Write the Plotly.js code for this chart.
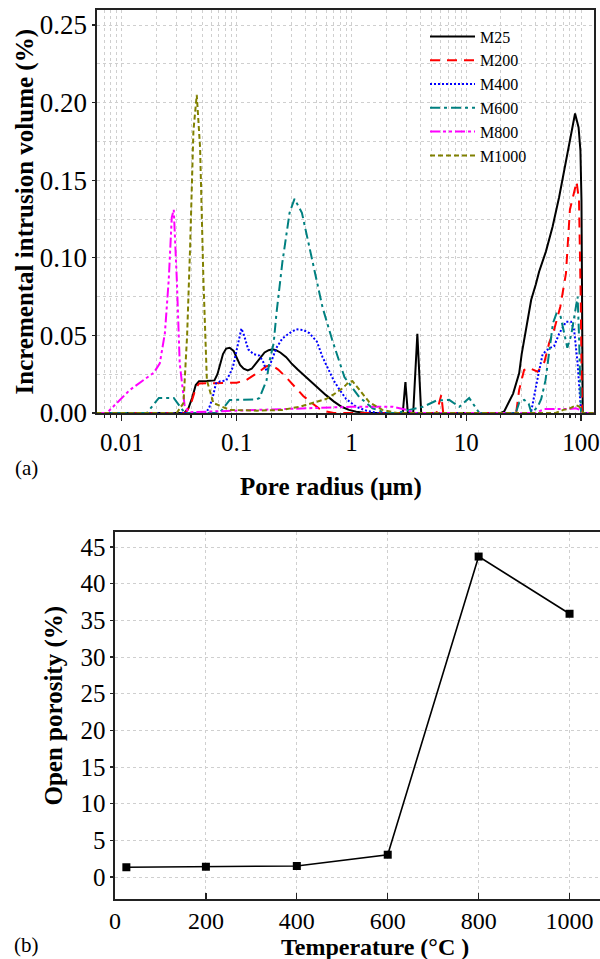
<!DOCTYPE html>
<html>
<head>
<meta charset="utf-8">
<script src="https://cdn.plot.ly/plotly-3.0.1.min.js"></script>
<style>
html,body{margin:0;padding:0;background:#fff}
#chart{width:600px;height:959px}
#chart svg text{font-family:"Liberation Serif","Times New Roman",serif !important;}
</style>
</head>
<body>
<div id="chart"></div>
<script>
// ---------- Panel (a): pore size distribution ----------
const seriesNames = ["M25", "M200", "M400", "M600", "M800", "M1000"];

const m25_x = [0.006, 0.035, 0.038, 0.041, 0.044, 0.047, 0.055, 0.064, 0.068, 0.072, 0.076, 0.081, 0.087, 0.094, 0.1, 0.107, 0.115, 0.125, 0.135, 0.147, 0.16, 0.175, 0.19, 0.205, 0.22, 0.24, 0.27, 0.3, 0.34, 0.39, 0.45, 0.52, 0.6, 0.7, 0.82, 0.95, 1.1, 1.3, 1.5, 2.8, 2.95, 3.1, 3.45, 3.75, 4.05, 20, 21.4, 25.6, 28.9, 30.4, 33.2, 35.3, 36.8, 40.4, 43.1, 49.4, 56.5, 64.4, 73.9, 84.8, 88.7, 95.2, 98.8, 100.9, 102.3, 103.5, 129];
const m25_y = [0, 0, 0.003, 0.01, 0.018, 0.0205, 0.0206, 0.021, 0.025, 0.032, 0.038, 0.0415, 0.042, 0.040, 0.036, 0.031, 0.0285, 0.0275, 0.0285, 0.032, 0.036, 0.039, 0.0405, 0.041, 0.0405, 0.039, 0.036, 0.032, 0.028, 0.024, 0.020, 0.0155, 0.0115, 0.0075, 0.004, 0.002, 0.0008, 0.0002, 0, 0, 0.020, 0, 0, 0.051, 0, 0, 0.001, 0.0125, 0.0256, 0.038, 0.055, 0.066, 0.073, 0.083, 0.091, 0.104, 0.120, 0.139, 0.163, 0.187, 0.193, 0.184, 0.169, 0.137, 0.073, 0, 0];

const m200_x = [0.006, 0.036, 0.04, 0.044, 0.047, 0.06, 0.08, 0.1, 0.12, 0.14, 0.16, 0.18, 0.2, 0.23, 0.27, 0.32, 0.38, 0.45, 0.52, 0.6, 0.7, 5.5, 6.06, 6.3, 27.2, 28.9, 31.9, 35.3, 41.9, 48, 52.7, 58.2, 66, 73.9, 80, 91.5, 96, 99.4, 102, 129];
const m200_y = [0, 0, 0.006, 0.016, 0.019, 0.0192, 0.0192, 0.0195, 0.021, 0.024, 0.027, 0.030, 0.031, 0.028, 0.023, 0.017, 0.011, 0.0065, 0.003, 0.001, 0, 0, 0.0116, 0, 0, 0.0148, 0.0277, 0.029, 0.0266, 0.033, 0.045, 0.0535, 0.0685, 0.090, 0.131, 0.149, 0.137, 0.073, 0, 0];

const m400_x = [0.006, 0.054, 0.058, 0.062, 0.066, 0.072, 0.081, 0.087, 0.093, 0.1, 0.106, 0.11, 0.116, 0.126, 0.14, 0.158, 0.17, 0.182, 0.195, 0.222, 0.25, 0.289, 0.33, 0.38, 0.43, 0.5, 0.56, 0.6, 0.7, 0.787, 0.9, 1.1, 1.35, 1.67, 36.6, 42, 46.3, 52.7, 58.2, 64.4, 73.9, 81.9, 87, 93.4, 96, 99.4, 101, 129];
const m400_y = [0, 0, 0.004, 0.0105, 0.019, 0.0205, 0.021, 0.025, 0.030, 0.040, 0.050, 0.0545, 0.050, 0.041, 0.038, 0.037, 0.033, 0.027, 0.031, 0.042, 0.048, 0.0515, 0.054, 0.0535, 0.0515, 0.046, 0.036, 0.031, 0.021, 0.015, 0.009, 0.004, 0.0015, 0, 0, 0.023, 0.038, 0.0417, 0.043, 0.051, 0.0588, 0.0588, 0.0535, 0.032, 0.017, 0.003, 0, 0];

const m600_x = [0.006, 0.0165, 0.021, 0.0283, 0.0353, 0.071, 0.087, 0.149, 0.158, 0.182, 0.194, 0.21, 0.222, 0.25, 0.289, 0.319, 0.37, 0.46, 0.56, 0.68, 0.87, 1.17, 1.53, 2.0, 2.5, 3.2, 4.2, 5.5, 7.1, 8.7, 10.6, 13, 27, 29, 32, 35, 37, 42, 45, 49, 53, 57, 61, 66, 72, 76, 82, 88, 93.4, 96, 99, 100, 129];
const m600_y = [0, 0, 0.0097, 0.0097, 0, 0, 0.0084, 0.0087, 0.0097, 0.021, 0.034, 0.045, 0.064, 0.097, 0.129, 0.138, 0.129, 0.097, 0.068, 0.047, 0.023, 0.0103, 0.003, 0, 0, 0.002, 0.004, 0.008, 0.0085, 0.004, 0.0097, 0, 0, 0.007, 0.0085, 0.006, 0, 0.004, 0.009, 0.021, 0.040, 0.058, 0.064, 0.063, 0.050, 0.042, 0.050, 0.063, 0.075, 0.050, 0.010, 0, 0];

const m800_x = [0.006, 0.0074, 0.0117, 0.019, 0.0214, 0.0237, 0.0256, 0.0272, 0.0283, 0.0301, 0.0319, 0.0353, 0.0383, 0.06, 0.1, 0.2, 0.35, 0.5, 1.0, 2.3, 3.0, 3.6, 40, 48, 77, 90, 98, 102, 129];
const m800_y = [0, 0, 0.0148, 0.026, 0.032, 0.0515, 0.086, 0.126, 0.131, 0.086, 0.032, 0.004, 0.0005, 0.001, 0.0015, 0.0025, 0.003, 0.0035, 0.004, 0.004, 0.002, 0, 0, 0.0025, 0.0025, 0.003, 0.002, 0, 0];

const m1000_x = [0.006, 0.03, 0.0344, 0.037, 0.0393, 0.042, 0.0449, 0.048, 0.0513, 0.055, 0.0627, 0.0875, 0.15, 0.25, 0.353, 0.5, 0.6, 0.7, 0.84, 0.95, 1.02, 1.17, 1.43, 1.86, 2.5, 60, 70, 80, 91, 97, 101, 104, 129];
const m1000_y = [0, 0, 0.0064, 0.05, 0.107, 0.182, 0.205, 0.171, 0.086, 0.021, 0.0064, 0.002, 0.0015, 0.002, 0.004, 0.007, 0.009, 0.012, 0.016, 0.020, 0.0205, 0.015, 0.007, 0.002, 0, 0, 0.002, 0.003, 0.005, 0.004, 0.002, 0, 0];

// ---------- Panel (b): open porosity ----------
const temps = [25, 200, 400, 600, 800, 1000];
const porosity = [1.33, 1.4, 1.5, 3.04, 43.7, 35.9];
const tempTicks = [0, 200, 400, 600, 800, 1000];

const FONT = "Liberation Serif";
const styles = [
  {color: "#000000", dash: "solid"},
  {color: "#ff0000", dash: "10px,7px"},
  {color: "#0000ff", dash: "2px,2px"},
  {color: "#008080", dash: "10px,4px,3px,4px"},
  {color: "#ff00ff", dash: "10px,3px,3px,3px,3px,3px"},
  {color: "#808000", dash: "5px,3px"}
];
const xs = [m25_x, m200_x, m400_x, m600_x, m800_x, m1000_x];
const ys = [m25_y, m200_y, m400_y, m600_y, m800_y, m1000_y];

const traces = seriesNames.map((n, i) => ({
  type: "scatter", mode: "lines", name: n,
  x: xs[i], y: ys[i], xaxis: "x", yaxis: "y",
  line: {color: styles[i].color, dash: styles[i].dash, width: 2},
  showlegend: true
}));

traces.push({
  type: "scatter", mode: "lines+markers", x: temps, y: porosity,
  xaxis: "x2", yaxis: "y2", showlegend: false,
  line: {color: "#000", width: 1.6},
  marker: {symbol: "square", size: 8, color: "#000"}
});

const gridC = "#cfcfcf";
const H = 959, W = 600;
const tf = (s) => ({family: FONT, size: s, color: "#000"});
const layout = {
  width: W, height: H,
  margin: {l: 0, r: 0, t: 0, b: 0},
  paper_bgcolor: "#fff", plot_bgcolor: "#fff",
  font: {family: FONT, color: "#000", size: 16},
  showlegend: true,
  legend: {
    x: 425 / W, xanchor: "left", y: (H - 19.5) / H, yanchor: "top",
    bgcolor: "rgba(0,0,0,0)", borderwidth: 0,
    font: tf(16),
    itemwidth: 45, tracegroupgap: 0
  },
  xaxis: {
    type: "log", domain: [97 / W, 594 / W],
    range: [Math.log10(0.00607), Math.log10(129.7)],
    anchor: "y",
    tickvals: [0.01, 0.1, 1, 10, 100], ticktext: ["0.01", "0.1", "1", "10", "100"],
    ticks: "outside", ticklen: 6, tickwidth: 1.2, tickcolor: "#222",
    tickfont: tf(25),
    showline: true, linecolor: "#222", linewidth: 1.6, mirror: true,
    showgrid: true, gridcolor: gridC, griddash: "dot", gridwidth: 1,
    minor: {dtick: "D1", ticks: "outside", ticklen: 3, tickcolor: "#222", showgrid: true, gridcolor: gridC, griddash: "dot", gridwidth: 1},
    zeroline: false
  },
  yaxis: {
    domain: [(H - 413) / H, (H - 9.5) / H],
    range: [0, 0.26], anchor: "x",
    tickvals: [0, 0.05, 0.1, 0.15, 0.2, 0.25],
    ticktext: ["0.00", "0.05", "0.10", "0.15", "0.20", "0.25"],
    ticks: "outside", ticklen: 3, tickwidth: 1.2, tickcolor: "#222",
    tickfont: tf(27),
    showline: true, linecolor: "#222", linewidth: 1.6, mirror: true,
    showgrid: true, gridcolor: gridC, griddash: "dot", gridwidth: 1,
    minor: {tickvals: [0.025, 0.075, 0.125, 0.175, 0.225], ticks: "", showgrid: true, gridcolor: gridC, griddash: "dot", gridwidth: 1},
    zeroline: false
  },
  xaxis2: {
    domain: [115 / W, 1], range: [0, 1067], anchor: "y2",
    tickvals: tempTicks,
    ticks: "inside", ticklen: 6, tickwidth: 1.2, tickcolor: "#222",
    tickfont: tf(24),
    showline: true, linecolor: "#222", linewidth: 1.6, mirror: true,
    showgrid: true, gridcolor: gridC, griddash: "dot", gridwidth: 1,
    zeroline: false
  },
  yaxis2: {
    domain: [(H - 899) / H, (H - 532) / H], range: [-3, 47.05], anchor: "x2",
    tickvals: [0, 5, 10, 15, 20, 25, 30, 35, 40, 45],
    ticks: "outside", ticklen: 3, tickwidth: 1.2, tickcolor: "#222",
    tickfont: tf(25),
    showline: true, linecolor: "#222", linewidth: 1.6, mirror: false,
    showgrid: true, gridcolor: gridC, griddash: "dot", gridwidth: 1,
    zeroline: false
  },
  annotations: [
    {text: "<b>Incremental intrusion volume (%)</b>", xref: "paper", yref: "paper", x: 24 / W, y: (H - 211.5) / H, xanchor: "center", yanchor: "middle", textangle: -90, showarrow: false, font: {family: FONT, size: 25}},
    {text: "<b>Pore radius (μm)</b>", xref: "paper", yref: "paper", x: 331 / W, y: (H - 487) / H, xanchor: "center", yanchor: "middle", showarrow: false, font: {family: FONT, size: 25}},
    {text: "(a)", xref: "paper", yref: "paper", x: 26 / W, y: (H - 468) / H, xanchor: "center", yanchor: "middle", showarrow: false, font: {family: FONT, size: 21}},
    {text: "<b>Open porosity (%)</b>", xref: "paper", yref: "paper", x: 53.5 / W, y: (H - 706) / H, xanchor: "center", yanchor: "middle", textangle: -90, showarrow: false, font: {family: FONT, size: 25}},
    {text: "<b>Temperature (°C )</b>", xref: "paper", yref: "paper", x: 375 / W, y: (H - 947) / H, xanchor: "center", yanchor: "middle", showarrow: false, font: {family: FONT, size: 24}},
    {text: "(b)", xref: "paper", yref: "paper", x: 26 / W, y: (H - 945) / H, xanchor: "center", yanchor: "middle", showarrow: false, font: {family: FONT, size: 21}}
  ]
};

Plotly.newPlot("chart", traces, layout, {staticPlot: true, displayModeBar: false});
</script>
</body>
</html>
